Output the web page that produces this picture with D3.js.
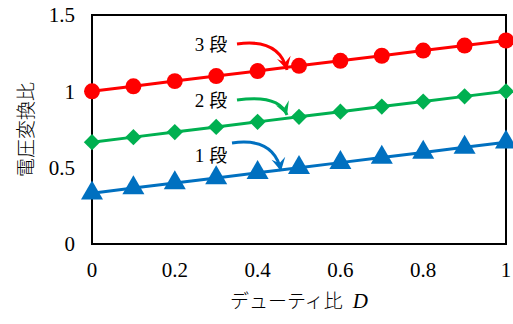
<!DOCTYPE html>
<html><head><meta charset="utf-8">
<script src="https://cdn.jsdelivr.net/npm/d3@7"></script>
<style>body{margin:0;background:#fff}svg{display:block}
text.ser{font-family:"Liberation Serif","Times New Roman",serif}
</style>
</head><body>
<svg id="c" width="513" height="324"></svg>
<script>
const duty = [0, 0.1, 0.2, 0.3, 0.4, 0.5, 0.6, 0.7, 0.8, 0.9, 1.0];
const stage1 = [0.333, 0.367, 0.400, 0.433, 0.467, 0.500, 0.533, 0.567, 0.600, 0.633, 0.667];
const stage2 = [0.667, 0.700, 0.733, 0.767, 0.800, 0.833, 0.867, 0.900, 0.933, 0.967, 1.000];
const stage3 = [1.000, 1.033, 1.067, 1.100, 1.133, 1.167, 1.200, 1.233, 1.267, 1.300, 1.333];
const xTicks = [0, 0.2, 0.4, 0.6, 0.8, 1];
const yTicks = [0, 0.5, 1, 1.5];
const seriesNames = ["1 段", "2 段", "3 段"];
const xTitle = "デューティ比";
const yTitle = "電圧変換比";

const SER = "'Liberation Serif', 'Times New Roman', serif";
const JP = "'Noto Sans CJK JP', 'Noto Sans', sans-serif";

const svg = d3.select("#c");
const M = {l: 92, r: 506, t: 15, b: 244};
const x = d3.scaleLinear().domain([0, 1]).range([M.l, M.r]);
const y = d3.scaleLinear().domain([0, 1.5]).range([M.b, M.t]);
const fmt = d3.format("~g");

// tick labels
svg.append("g").selectAll("text").data(xTicks).join("text")
  .attr("class", "ser").attr("x", d => x(d)).attr("y", 270).attr("dy", "0.35em")
  .attr("text-anchor", "middle").attr("font-size", 21).attr("fill", "#000").text(fmt);
svg.append("g").selectAll("text").data(yTicks).join("text")
  .attr("class", "ser").attr("x", M.l - 17).attr("y", d => y(d)).attr("dy", "0.35em")
  .attr("text-anchor", "end").attr("font-size", 21).attr("fill", "#000").text(fmt);

svg.append("rect").attr("x", M.l).attr("y", M.t).attr("width", M.r - M.l).attr("height", M.b - M.t)
  .attr("fill", "none").attr("stroke", "#000").attr("stroke-width", 2);

const series = [
  {vals: stage1, color: "#0070C0", sym: d3.symbolTriangle, size: 210},
  {vals: stage2, color: "#00B050", sym: d3.symbolDiamond2, size: 170},
  {vals: stage3, color: "#FF0000", sym: d3.symbolCircle, size: 200}
];
const line = d3.line().x(d => x(d[0])).y(d => y(d[1]));
series.forEach(s => {
  const pts = duty.map((d, i) => [d, s.vals[i]]);
  svg.append("path").attr("d", line(pts)).attr("fill", "none")
    .attr("stroke", s.color).attr("stroke-width", 3);
  svg.append("g").selectAll("path").data(pts).join("path")
    .attr("transform", d => `translate(${x(d[0])},${y(d[1])})`)
    .attr("d", d3.symbol().type(s.sym).size(s.size)).attr("fill", s.color);
});

const ann = [
  {name: seriesNames[2], color: "#FF0000", tx: 211, ty: 44, p0: [237, 44], c: [279, 38], p1: [287, 70]},
  {name: seriesNames[1], color: "#00B050", tx: 211, ty: 100, p0: [237, 100], c: [279, 94], p1: [287, 115]},
  {name: seriesNames[0], color: "#0070C0", tx: 211, ty: 155, p0: [232, 143], c: [274, 137], p1: [281, 171]}
];
ann.forEach(a => {
  const t = svg.append("text").attr("x", a.tx).attr("y", a.ty).attr("dy", "0.35em")
    .attr("text-anchor", "middle").attr("fill", "#000").attr("font-size", 19);
  const parts = a.name.split(" ");
  t.append("tspan").attr("font-family", SER).text(parts[0]);
  t.append("tspan").attr("dx", 5).attr("font-family", JP).attr("font-size", 18).text(parts[1]);
  const path = `M${a.p0[0]},${a.p0[1]} Q${a.c[0]},${a.c[1]} ${a.p1[0]},${a.p1[1]}`;
  svg.append("path").attr("d", path).attr("fill", "none").attr("stroke", a.color).attr("stroke-width", 3);
  const ang = Math.atan2(a.p1[1] - a.c[1], a.p1[0] - a.c[0]);
  const L = 13, W = 7;
  const bx = a.p1[0] - L * Math.cos(ang), by = a.p1[1] - L * Math.sin(ang);
  const nx = -Math.sin(ang), ny = Math.cos(ang);
  const mx = a.p1[0] - 0.6 * L * Math.cos(ang), my = a.p1[1] - 0.6 * L * Math.sin(ang);
  svg.append("path")
    .attr("d", `M${a.p1[0]},${a.p1[1]} L${bx + nx * W},${by + ny * W} L${mx},${my} L${bx - nx * W},${by - ny * W} Z`)
    .attr("fill", a.color);
});

const xt = svg.append("text").attr("x", (M.l + M.r) / 2).attr("y", 301).attr("dy", "0.35em")
  .attr("text-anchor", "middle").attr("fill", "#000").attr("font-size", 19);
xt.append("tspan").attr("font-family", JP).attr("font-weight", 300).text(xTitle);
xt.append("tspan").attr("dx", 10).attr("font-family", SER).attr("font-style", "italic").attr("font-size", 21).text("D");
svg.append("text").attr("transform", `translate(26,${(M.t + M.b) / 2}) rotate(-90)`)
  .attr("dy", "0.35em").attr("text-anchor", "middle").attr("fill", "#000")
  .attr("font-family", JP).attr("font-size", 19).attr("font-weight", 300)
  .text(yTitle);
</script>
</body></html>
